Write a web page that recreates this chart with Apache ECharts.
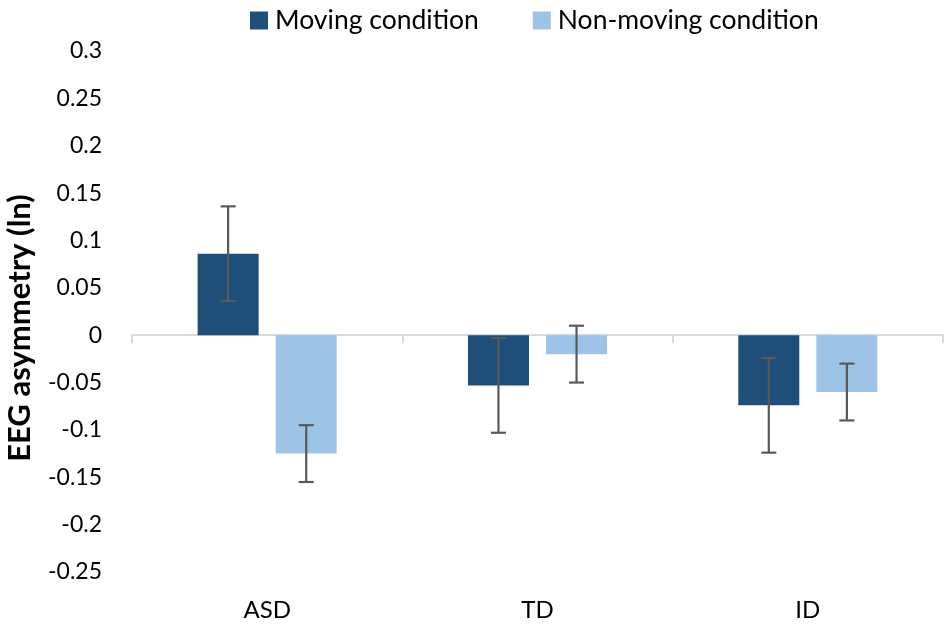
<!DOCTYPE html>
<html>
<head>
<meta charset="utf-8">
<script src="https://cdn.jsdelivr.net/npm/echarts@6/dist/echarts.min.js"></script>
<style>html,body{margin:0;padding:0;background:#fff}#c{width:948px;height:628px}</style>
</head>
<body>
<div id="c"></div>
<script>
var categories = ['ASD', 'TD', 'ID'];
var movingValues = [0.086, -0.053, -0.074];
var movingErrors = [0.05, 0.05, 0.05];
var nonMovingValues = [-0.125, -0.02, -0.06];
var nonMovingErrors = [0.03, 0.03, 0.03];
var yTicks = [-0.25, -0.2, -0.15, -0.1, -0.05, 0, 0.05, 0.1, 0.15, 0.2, 0.25, 0.3];
var yTitle = 'EEG asymmetry (ln)';

var FONT = 'Lato';
var BAR_W = 61, GAP_RATIO = 0.28;
var chart = echarts.init(document.getElementById('c'));

function errSeries(name, values, errors, dir) {
  return {
    type: 'custom',
    name: name + ' err',
    xAxisIndex: 0,
    yAxisIndex: 0,
    z: 10,
    silent: true,
    data: values.map(function (v, i) { return [i, v, v + errors[i], v - errors[i]]; }),
    renderItem: function (params, api) {
      var off = dir * (BAR_W / 2 + BAR_W * GAP_RATIO / 2);
      var c = api.coord([api.value(0), api.value(1)]);
      var hi = api.coord([api.value(0), api.value(2)]);
      var lo = api.coord([api.value(0), api.value(3)]);
      var x = c[0] + off, cap = 7.5;
      var st = { stroke: '#595959', lineWidth: 2.2 };
      return {
        type: 'group',
        children: [
          { type: 'line', shape: { x1: x, y1: hi[1], x2: x, y2: lo[1] }, style: st },
          { type: 'line', shape: { x1: x - cap, y1: hi[1], x2: x + cap, y2: hi[1] }, style: st },
          { type: 'line', shape: { x1: x - cap, y1: lo[1], x2: x + cap, y2: lo[1] }, style: st }
        ]
      };
    }
  };
}

chart.setOption({
  animation: false,
  textStyle: { fontFamily: FONT },
  legend: {
    top: 2,
    left: 245,
    itemWidth: 18,
    itemHeight: 18,
    itemGap: 54,
    icon: 'rect',
    textStyle: { fontSize: 26.5, color: '#000', fontFamily: FONT, padding: [0, 0, 0, 2] },
    data: ['Moving condition', 'Non-moving condition']
  },
  graphic: [{
    type: 'text',
    x: 20,
    y: 328,
    rotation: Math.PI / 2,
    style: {
      text: yTitle,
      font: 'bold 31px Lato',
      fill: '#000',
      align: 'center',
      verticalAlign: 'middle'
    }
  }],
  grid: { left: 132, right: 5, top: 51, bottom: 56 },
  xAxis: [{
    type: 'category',
    data: categories,
    axisLine: { onZero: true, lineStyle: { color: '#d9d9d9', width: 2 } },
    axisTick: { show: true, length: 8, lineStyle: { color: '#d9d9d9', width: 2 } },
    axisLabel: { show: false }
  }, {
    type: 'category',
    data: categories,
    position: 'bottom',
    axisLine: { show: false, onZero: false },
    axisTick: { show: false },
    axisLabel: { show: true, fontSize: 24, color: '#000', margin: 26, fontFamily: FONT }
  }],
  yAxis: {
    type: 'value',
    min: yTicks[0],
    max: yTicks[yTicks.length - 1],
    interval: 0.05,
    splitLine: { show: false },
    axisLine: { show: false },
    axisTick: { show: false },
    axisLabel: {
      fontSize: 23, color: '#000', margin: 30, fontFamily: FONT,
      formatter: function (v) { return String(Math.round(v * 100) / 100); }
    }
  },
  series: [{
    type: 'bar',
    name: 'Moving condition',
    data: movingValues,
    barWidth: BAR_W,
    barGap: (GAP_RATIO * 100) + '%',
    itemStyle: { color: '#1f4e79' }
  }, {
    type: 'bar',
    name: 'Non-moving condition',
    data: nonMovingValues,
    barWidth: BAR_W,
    barGap: (GAP_RATIO * 100) + '%',
    itemStyle: { color: '#9dc3e6' }
  },
  errSeries('Moving condition', movingValues, movingErrors, -1),
  errSeries('Non-moving condition', nonMovingValues, nonMovingErrors, 1)
  ]
});
</script>
</body>
</html>
